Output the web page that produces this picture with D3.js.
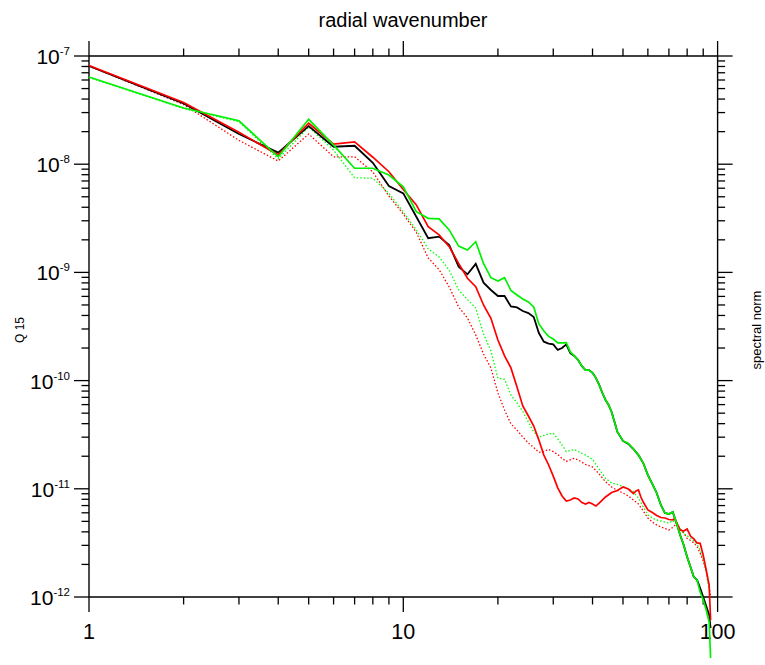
<!DOCTYPE html>
<html><head><meta charset="utf-8">
<script src="https://cdn.jsdelivr.net/npm/d3@7"></script>
<style>
html,body{margin:0;padding:0;background:#fff;}
text{font-family:"Liberation Sans",Arial,Helvetica,sans-serif;fill:#000;}
</style></head>
<body><div id="chart"></div>
<script>
// ---------------- data ----------------
const title = "radial wavenumber";
const yLabelLeft = "Q 15";
const yLabelRight = "spectral norm";
const xTickValues = [1, 10, 100];
const xTickLabels = ["1", "10", "100"];
const yTickValues = [1e-12, 1e-11, 1e-10, 1e-9, 1e-8, 1e-7];
const yTickExponents = ["-12", "-11", "-10", "-9", "-8", "-7"];

const kMain = [1,2,3,4,5,6,7,8,9,10,11,12,13,14,15,16,17,18,19,20,21,22,23,24,25,26,27,28,29,30,31,32,33,34,35,36,37,38,39,40,41,42,43,44,45,46,47,48,50,52,54,56,58,60,62,64,66,68,70,72,74,76,78,80,82,84,86,88,90,92,94,95];
const blackSolid = [8.08e-8,3.64e-8,1.90e-8,1.28e-8,2.25e-8,1.45e-8,1.48e-8,1.03e-8,6.29e-9,5.38e-9,
  3.27e-9,2.07e-9,2.14e-9,1.79e-9,1.13e-9,9.60e-10,1.20e-9,8.03e-10,6.88e-10,6.05e-10,
  6.05e-10,4.84e-10,4.74e-10,4.40e-10,4.21e-10,3.87e-10,2.75e-10,2.29e-10,2.20e-10,2.16e-10,
  1.92e-10,2.00e-10,2.16e-10,1.79e-10,1.69e-10,1.55e-10,1.36e-10,1.25e-10,1.25e-10,1.18e-10,
  1.06e-10,9.11e-11,7.68e-11,6.62e-11,5.95e-11,5.13e-11,4.14e-11,3.35e-11,
  2.77e-11,2.60e-11,2.33e-11,2.05e-11,1.73e-11,1.34e-11,1.11e-11,9.15e-12,7.09e-12,5.97e-12,
  5.85e-12,6.10e-12,4.83e-12,3.74e-12,3.02e-12,2.34e-12,1.89e-12,1.53e-12,1.44e-12,1.21e-12,
  1.0e-12,8.26e-13,6.82e-13,5.17e-13];
const greenSolid = [6.39e-8,3.31e-8,2.52e-8,1.17e-8,2.60e-8,1.50e-8,9.17e-9,9.17e-9,7.95e-9,6.19e-9,
  3.64e-9,3.16e-9,3.12e-9,2.47e-9,1.75e-9,1.61e-9,1.92e-9,1.21e-9,8.93e-10,8.33e-10,
  8.93e-10,6.80e-10,6.18e-10,5.68e-10,5.33e-10,4.79e-10,3.34e-10,2.87e-10,2.56e-10,2.42e-10,
  2.23e-10,2.23e-10,2.24e-10,1.84e-10,1.69e-10,1.55e-10,1.36e-10,1.25e-10,1.25e-10,1.18e-10,
  1.06e-10,9.11e-11,7.68e-11,6.62e-11,5.95e-11,5.13e-11,4.14e-11,3.35e-11,
  2.77e-11,2.63e-11,2.33e-11,2.05e-11,1.73e-11,1.34e-11,1.11e-11,9.15e-12,7.09e-12,5.97e-12,
  5.85e-12,6.10e-12,4.83e-12,3.74e-12,3.02e-12,2.34e-12,1.89e-12,1.53e-12,1.44e-12,1.11e-12,
  9.38e-13,7.58e-13,5.87e-13,2.73e-13];

const kRed = [1,2,3,4,5,6,7,8,9,10,11,12,13,14,15,16,17,18,19,20,21,22,23,24,25,26,27,28,29,30,31,32,33,34,35,36,37,38,39,40,41,42,44,46,48,50,52,54,55,56,57,58,60,62,64,66,68,70,72,73,74,76,78,80,82,84,86,88,90,92,93,94,95];
const redSolid = [8.17e-8,3.72e-8,1.97e-8,1.22e-8,2.39e-8,1.53e-8,1.61e-8,1.16e-8,8.52e-9,5.84e-9,
  4.20e-9,2.65e-9,2.22e-9,1.73e-9,1.21e-9,8.82e-10,7.38e-10,5.00e-10,3.77e-10,2.37e-10,
  1.69e-10,1.31e-10,8.73e-11,5.83e-11,4.71e-11,3.80e-11,2.82e-11,2.05e-11,1.66e-11,1.31e-11,
  1.02e-11,8.58e-12,7.71e-12,7.88e-12,8.22e-12,8.05e-12,7.47e-12,7.24e-12,7.47e-12,7.24e-12,
  6.93e-12,7.39e-12,8.40e-12,9.24e-12,9.65e-12,1.04e-11,9.95e-12,9.05e-12,9.54e-12,9.75e-12,
  8.40e-12,7.55e-12,6.37e-12,6.04e-12,5.67e-12,5.43e-12,5.37e-12,5.20e-12,5.15e-12,5.31e-12,
  4.93e-12,4.16e-12,4.07e-12,4.25e-12,3.66e-12,3.44e-12,3.16e-12,3.13e-12,2.44e-12,1.78e-12,
  1.50e-12,1.29e-12,6.13e-13];

const kGreenDot = [1,2,3,4,5,6,7,8,9,10,11,12,13,14,15,16,17,18,19,20,21,22,23,24,25,26,27,28,29,30,31,32,33,34,35,36,38,40,42,44,46,48,50,54,56,58,60,62,64,66,68,70,72,74,76,78,82,86,88,90,92,93,94];
const greenDotted = [6.33e-8,3.27e-8,2.47e-8,1.12e-8,2.21e-8,1.35e-8,7.50e-9,7.41e-9,5.38e-9,3.61e-9,
  2.47e-9,1.65e-9,1.39e-9,1.05e-9,6.88e-10,5.62e-10,4.69e-10,2.70e-10,1.88e-10,1.05e-10,
  1.03e-10,7.36e-11,6.21e-11,5.18e-11,4.14e-11,3.35e-11,3.01e-11,3.11e-11,3.21e-11,3.26e-11,
  2.89e-11,2.54e-11,2.21e-11,2.26e-11,2.31e-11,2.21e-11,2.05e-11,1.87e-11,1.52e-11,1.25e-11,
  1.13e-11,1.10e-11,1.05e-11,9.40e-12,8.22e-12,6.79e-12,5.73e-12,5.37e-12,5.15e-12,5.04e-12,
  4.93e-12,4.83e-12,5.09e-12,4.73e-12,4.25e-12,3.86e-12,3.51e-12,3.09e-12,2.72e-12,2.24e-12,
  1.70e-12,1.38e-12,1.16e-12];

const kRedDot = [1,2,3,4,5,6,7,8,9,10,11,12,13,14,15,16,17,18,19,20,21,22,23,24,25,26,27,28,29,30,31,32,33,34,35,36,38,40,42,44,46,48,50,52,54,56,58,60,62,64,66,68,70,72,74,76,78,80,82,84,86,88,90,92,93,94,95];
const redDotted = [8.08e-8,3.56e-8,1.66e-8,1.07e-8,1.90e-8,1.17e-8,1.17e-8,8.47e-9,5.08e-9,3.46e-9,
  2.34e-9,1.36e-9,1.06e-9,7.33e-10,4.79e-10,3.79e-10,2.64e-10,1.76e-10,1.31e-10,7.68e-11,
  5.35e-11,3.97e-11,3.49e-11,3.01e-11,2.65e-11,2.41e-11,2.17e-11,2.21e-11,2.31e-11,2.21e-11,
  2.07e-11,1.91e-11,1.79e-11,1.85e-11,1.91e-11,1.85e-11,1.68e-11,1.59e-11,1.37e-11,1.16e-11,
  1.04e-11,9.65e-12,9.15e-12,8.58e-12,7.88e-12,7.24e-12,6.23e-12,5.37e-12,4.93e-12,4.63e-12,
  4.44e-12,4.30e-12,4.16e-12,4.39e-12,4.78e-12,4.25e-12,3.90e-12,3.47e-12,3.33e-12,3.16e-12,
  2.93e-12,2.55e-12,2.15e-12,1.74e-12,1.50e-12,1.24e-12,1.02e-12];

// ---------------- drawing ----------------
const W = 765, H = 665;
const m = {left: 89, right: 765 - 717.6, top: 56, bottom: 665 - 597};
const svg = d3.select("#chart").append("svg").attr("width", W).attr("height", H);

const x = d3.scaleLog().domain([1, 100]).range([m.left, W - m.right]);
const y = d3.scaleLog().domain([1e-12, 1e-7]).range([H - m.bottom, m.top]);

const x0 = x.range()[0], x1 = x.range()[1];
const yb = y.range()[0], yt = y.range()[1];

const xMinor = [], yMinor = [];
for (let d = 1; d < 100; d *= 10) for (let i = 2; i <= 9; i++) xMinor.push(i * d);
for (let e = -12; e < -7; e++) for (let i = 2; i <= 9; i++) yMinor.push(i * Math.pow(10, e));

const axisG = svg.append("g").attr("stroke", "#000").attr("fill", "none");
axisG.append("line").attr("x1", x0).attr("x2", x1).attr("y1", yt).attr("y2", yt).attr("stroke-width", 1.4);
axisG.append("line").attr("x1", x0).attr("x2", x1).attr("y1", yb).attr("y2", yb).attr("stroke-width", 1.4);
axisG.append("line").attr("x1", x0).attr("x2", x0).attr("y1", yt).attr("y2", yb).attr("stroke-width", 1.4);
axisG.append("line").attr("x1", x1).attr("x2", x1).attr("y1", yt).attr("y2", yb).attr("stroke-width", 1.4);

const MAJ = 15, MIN = 7.5;
function xTicks(vals, len) {
  vals.forEach(v => {
    const px = x(v);
    axisG.append("line").attr("x1", px).attr("x2", px).attr("y1", yb).attr("y2", yb + len).attr("stroke-width", 1.3);
    axisG.append("line").attr("x1", px).attr("x2", px).attr("y1", yt).attr("y2", yt - len).attr("stroke-width", 1.3);
  });
}
function yTicks(vals, len) {
  vals.forEach(v => {
    const py = y(v);
    axisG.append("line").attr("x1", x0).attr("x2", x0 - len).attr("y1", py).attr("y2", py).attr("stroke-width", 1.3);
    axisG.append("line").attr("x1", x1).attr("x2", x1 + len).attr("y1", py).attr("y2", py).attr("stroke-width", 1.3);
  });
}
xTicks(xTickValues, MAJ); xTicks(xMinor, MIN);
yTicks(yTickValues, MAJ); yTicks(yMinor, MIN);

xTickValues.forEach((v, i) => {
  svg.append("text").attr("x", x(v)).attr("y", 639).attr("text-anchor", "middle")
    .attr("font-size", 21.5).text(xTickLabels[i]);
});
yTickValues.forEach((v, i) => {
  const t = svg.append("text").attr("x", 70).attr("y", y(v) + 8).attr("text-anchor", "end");
  t.append("tspan").attr("font-size", 21).text("10");
  t.append("tspan").attr("font-size", 11.5).attr("dy", -9).text(yTickExponents[i]);
});

svg.append("text").attr("x", 403).attr("y", 27).attr("text-anchor", "middle").attr("font-size", 20).text(title);
svg.append("text").attr("transform", "translate(24,330) rotate(-90)").attr("text-anchor", "middle").attr("font-size", 12).text(yLabelLeft);
svg.append("text").attr("transform", "translate(761,330) rotate(-90)").attr("text-anchor", "middle").attr("font-size", 13).text(yLabelRight);

const line = d3.line().x(d => x(d[0])).y(d => y(d[1]));
const series = [
  {k: kRedDot, v: redDotted, color: "#ff0000", dash: "1.5,2", w: 1.3},
  {k: kGreenDot, v: greenDotted, color: "#00ff00", dash: "1.5,2", w: 1.3},
  {k: kMain, v: blackSolid, color: "#000000", dash: null, w: 1.8},
  {k: kRed, v: redSolid, color: "#ff0000", dash: null, w: 1.7},
  {k: kMain, v: greenSolid, color: "#00f000", dash: null, w: 1.7}
];
series.forEach(s => {
  svg.append("path").datum(d3.zip(s.k, s.v)).attr("d", line)
    .attr("fill", "none").attr("stroke", s.color).attr("stroke-width", s.w)
    .attr("stroke-linejoin", "miter")
    .attr("stroke-dasharray", s.dash);
});
</script></body></html>
